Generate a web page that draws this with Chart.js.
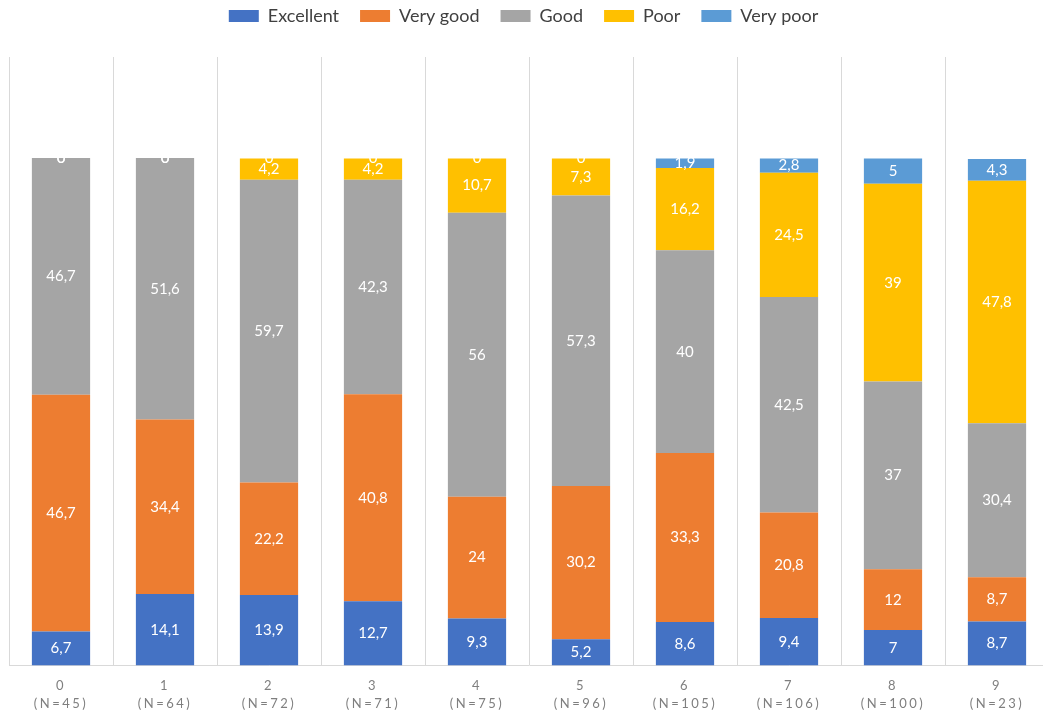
<!DOCTYPE html>
<html>
<head>
<meta charset="utf-8">
<script src="https://cdn.jsdelivr.net/npm/chart.js@4.4.0/dist/chart.umd.min.js"></script>
<style>
  html, body { margin: 0; padding: 0; background: #fff; overflow: hidden; }
  canvas { display: block; }
</style>
</head>
<body>
<canvas id="bar-chart" width="1060" height="724"></canvas>
<script>
// groups and their sizes
let groups = ['0', '1', '2', '3', '4', '5', '6', '7', '8', '9'];
let sizes = [45, 64, 72, 71, 75, 96, 105, 106, 100, 23];

// share of each rating, in percent
let excellent = [6.7, 14.1, 13.9, 12.7, 9.3, 5.2, 8.6, 9.4, 7, 8.7];
let veryGood = [46.7, 34.4, 22.2, 40.8, 24, 30.2, 33.3, 20.8, 12, 8.7];
let good = [46.7, 51.6, 59.7, 42.3, 56, 57.3, 40, 42.5, 37, 30.4];
let poor = [0, 0, 4.2, 4.2, 10.7, 7.3, 16.2, 24.5, 39, 47.8];
let veryPoor = [0, 0, 0, 0, 0, 0, 1.9, 2.8, 5, 4.3];

let labels = groups.map(function(g, i) {
  return [g, '(N=' + sizes[i] + ')'];
});

const FONT = 'Lato';

// white numbers in the middle of each segment, comma as decimal mark
const valueLabels = {
  id: 'valueLabels',
  afterLayout(chart) {
    // nudge the legend up and a little to the left
    chart.legend.left -= 5.5;
    chart.legend.right -= 5.5;
    chart.legend.top -= 22;
    chart.legend.bottom -= 22;
  },
  afterDatasetsDraw(chart) {
    const ctx = chart.ctx;
    ctx.save();
    ctx.font = '15px ' + FONT;
    ctx.fillStyle = '#ffffff';
    ctx.textAlign = 'center';
    ctx.textBaseline = 'middle';
    chart.data.datasets.forEach(function(ds, i) {
      chart.getDatasetMeta(i).data.forEach(function(bar, j) {
        let txt = String(ds.data[j]).replace('.', ',');
        ctx.fillText(txt, bar.x, (bar.y + bar.base) / 2);
      });
    });
    ctx.restore();
    // the category labels are drawn after this, spaced out
    ctx.letterSpacing = '2.5px';
  },
  afterDraw(chart) {
    chart.ctx.letterSpacing = '0px';
  }
};

new Chart(document.getElementById('bar-chart'), {
  type: 'bar',
  data: {
    labels: labels,
    datasets: [
      { label: 'Excellent', data: excellent, backgroundColor: '#4472C4' },
      { label: 'Very good', data: veryGood, backgroundColor: '#ED7D31' },
      { label: 'Good', data: good, backgroundColor: '#A5A5A5' },
      { label: 'Poor', data: poor, backgroundColor: '#FFC000' },
      { label: 'Very poor', data: veryPoor, backgroundColor: '#5B9BD5' }
    ]
  },
  options: {
    responsive: false,
    animation: false,
    layout: { padding: { left: 9, right: 11, top: 8, bottom: 0 } },
    datasets: {
      bar: { categoryPercentage: 1, barPercentage: 0.56, borderWidth: 0 }
    },
    plugins: {
      legend: {
        position: 'top',
        labels: {
          usePointStyle: true,
          pointStyle: 'rect',
          pointStyleWidth: 30,
          boxHeight: 12,
          padding: 21,
          color: '#404040',
          font: { family: FONT, size: 18 }
        }
      },
      tooltip: { enabled: false }
    },
    scales: {
      x: {
        stacked: true,
        grid: { color: '#D9D9D9', drawTicks: false, offset: true },
        border: { color: '#D9D9D9' },
        ticks: {
          z: 1,
          padding: 11,
          color: '#7F7F7F',
          font: { family: FONT, size: 13, lineHeight: 1.4 }
        }
      },
      y: {
        stacked: true,
        display: false,
        min: 0,
        max: 120
      }
    }
  },
  plugins: [valueLabels]
});
</script>
</body>
</html>
